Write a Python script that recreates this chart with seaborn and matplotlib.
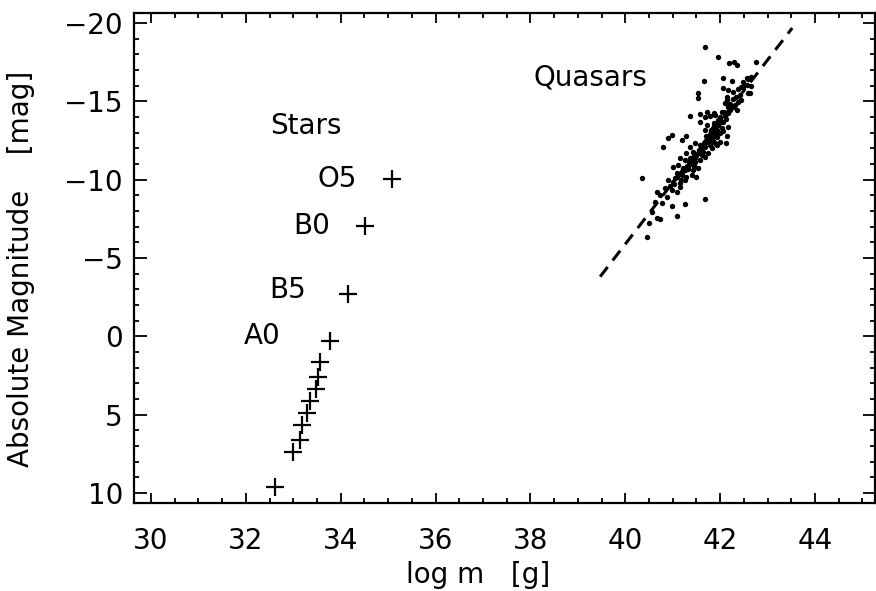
import matplotlib
matplotlib.use("Agg")
import matplotlib.pyplot as plt
from matplotlib.ticker import MultipleLocator
import seaborn as sns
import pandas as pd

# stars (log mass, absolute magnitude)
star_logm = [35.08, 34.51, 34.15, 33.77, 33.56, 33.52, 33.48, 33.35, 33.29,
             33.18, 33.14, 32.99, 32.61]
star_mag = [-10.04, -7.05, -2.71, 0.29, 1.63, 2.59, 3.36, 4.12, 4.89,
            5.65, 6.61, 7.38, 9.61]

# spectral type labels
type_names = ["O5", "B0", "B5", "A0"]
type_x = [33.92, 33.39, 32.89, 32.34]
type_y = [-10.04, -7.05, -2.97, 0.0]

# quasars
qso_logm = [41.68, 41.96, 42.19, 42.29, 42.35, 42.76, 41.66, 42.07, 42.24, 42.49,
            42.56, 42.66, 42.07, 42.17, 42.28, 42.38, 42.49, 42.59, 41.54, 41.54,
            42.14, 42.28, 42.38, 42.45, 42.17, 42.28, 42.35, 41.36, 41.57, 41.68,
            41.79, 41.89, 42.00, 42.10, 42.17, 41.57, 41.72, 41.86, 41.96, 42.07,
            42.17, 41.68, 41.82, 41.93, 42.03, 40.98, 40.91, 41.29, 41.19, 42.14,
            41.82, 41.93, 41.75, 41.89, 42.00, 40.79, 41.47, 41.36, 41.57, 41.68,
            41.82, 41.93, 42.12, 41.29, 41.43, 41.54, 41.64, 41.75, 41.15, 41.26,
            41.36, 41.47, 41.57, 41.68, 41.01, 41.12, 41.22, 41.33, 41.43, 41.54,
            41.08, 41.19, 41.29, 41.40, 41.50, 40.35, 40.91, 41.01, 41.15, 41.26,
            40.84, 40.98, 41.08, 41.15, 40.66, 40.73, 40.87, 41.68, 40.63, 40.77,
            40.98, 41.26, 40.56, 40.66, 40.73, 41.08, 40.49, 40.45,
            42.59, 42.66, 42.56, 42.45, 42.63, 42.14, 42.42, 42.31, 42.10, 41.72,
            41.86, 42.03, 42.21,
            41.40, 41.50, 41.60, 41.70, 41.78, 41.85, 41.95, 42.00, 41.45, 41.62,
            41.78, 41.90, 42.05, 41.20, 41.05, 40.95, 41.30, 41.70, 41.85, 42.00,
            41.10, 41.25, 41.35, 41.48, 41.55, 41.66, 41.74, 41.80, 41.88, 41.98,
            42.08, 42.20, 42.33, 41.02, 41.18, 41.32, 41.42, 41.60, 41.92, 42.12]
qso_mag = [-18.45, -17.81, -17.43, -17.53, -17.32, -17.49, -16.30, -16.51, -16.32, -16.26,
           -16.47, -15.98, -15.83, -15.72, -15.62, -15.77, -15.89, -15.55, -15.55, -15.23,
           -15.09, -15.13, -14.98, -15.09, -14.66, -14.62, -14.45, -14.06, -14.19, -14.02,
           -14.06, -14.13, -14.02, -14.06, -14.23, -13.70, -13.49, -13.60, -13.81, -13.70,
           -13.34, -13.17, -13.06, -13.17, -13.28, -12.85, -12.64, -12.79, -12.53, -12.79,
           -12.64, -12.75, -12.43, -12.32, -12.43, -12.06, -12.32, -12.11, -12.21, -12.11,
           -12.00, -12.21, -12.36, -11.68, -11.79, -11.68, -11.79, -11.68, -11.36, -11.26,
           -11.36, -11.15, -11.26, -11.47, -10.83, -10.94, -10.72, -10.83, -10.62, -10.72,
           -10.40, -10.30, -10.19, -10.30, -10.19, -10.09, -9.98, -9.87, -9.77, -9.98,
           -9.45, -9.34, -9.23, -9.55, -9.23, -9.02, -8.91, -8.75, -8.60, -8.49,
           -8.32, -8.45, -7.96, -7.53, -7.47, -7.68, -7.21, -6.36,
           -16.41, -16.57, -16.04, -15.94, -15.51, -15.30, -15.40, -14.77, -14.88, -14.34,
           -14.24, -14.34, -14.45,
           -11.00, -11.50, -12.00, -12.40, -12.90, -13.30, -13.50, -13.90, -10.90, -11.60,
           -12.20, -12.90, -13.10, -10.50, -10.10, -9.60, -10.90, -12.80, -12.50, -13.00,
           -10.20, -10.60, -11.10, -11.40, -11.90, -12.30, -12.60, -13.20, -13.40, -13.60,
           -14.30, -14.80, -15.30, -9.70, -10.00, -10.70, -11.20, -11.90, -12.95, -13.90]

# dashed relation through the quasars
fit_logm = [39.47, 43.52]
fit_mag = [-3.81, -19.68]

stars = pd.DataFrame({"logm": star_logm, "mag": star_mag})
qsos = pd.DataFrame({"logm": qso_logm, "mag": qso_mag})

sns.set_theme(style="ticks")
plt.rcParams["font.family"] = ["DejaVu Sans"]
plt.rcParams["text.color"] = "black"
plt.rcParams["axes.labelcolor"] = "black"

FS = 20

W, H = 876, 591
fig = plt.figure(figsize=(W / 100, H / 100), dpi=100)
ax = fig.add_axes([134 / W, 1 - 503 / H, (875 - 134) / W, 490 / H])

sns.scatterplot(data=qsos, x="logm", y="mag", ax=ax, color="black", marker="o",
                s=15, linewidth=0)
sns.scatterplot(data=stars, x="logm", y="mag", ax=ax, color="black", marker="+",
                s=150, linewidth=1.6)
ax.plot(fit_logm, fit_mag, color="black", lw=2.2, dashes=(4, 2.7))

for name, tx, ty in zip(type_names, type_x, type_y):
    ax.text(tx, ty, name, ha="center", va="center", fontsize=FS)
ax.text(33.27, -13.43, "Stars", ha="center", va="center", fontsize=FS)
ax.text(39.26, -16.55, "Quasars", ha="center", va="center", fontsize=FS)

ax.set_xlim(29.642, 45.265)
ax.set_ylim(10.64, -20.64)
ax.xaxis.set_major_locator(MultipleLocator(2))
ax.xaxis.set_minor_locator(MultipleLocator(0.5))
ax.yaxis.set_major_locator(MultipleLocator(5))
ax.yaxis.set_minor_locator(MultipleLocator(1))
ax.set_xticks([30, 32, 34, 36, 38, 40, 42, 44])
ax.set_xticklabels(["30", "32", "34", "36", "38", "40", "42", "44"])
ax.set_yticks([-20, -15, -10, -5, 0, 5, 10])
ax.set_yticklabels(["\u221220", "\u221215", "\u221210", "\u22125", "0", "5", "10"])

ax.tick_params(which="both", direction="in", top=True, right=True, colors="black",
               labelsize=FS)
ax.tick_params(axis="x", which="major", length=7, width=1.3, pad=17)
ax.tick_params(axis="y", which="major", length=9, width=1.3, pad=8)
ax.tick_params(which="minor", length=3.5, width=1.3)
for sp in ax.spines.values():
    sp.set_linewidth(1.6)
    sp.set_color("black")

ax.set_xlabel("log m   [g]", fontsize=FS, va="center")
ax.xaxis.set_label_coords(0.464, -0.147)
ax.set_ylabel("Absolute Magnitude    [mag]", fontsize=FS, va="center")
ax.yaxis.set_label_coords(-0.152, 0.478)

fig.savefig("out.png", dpi=100)
